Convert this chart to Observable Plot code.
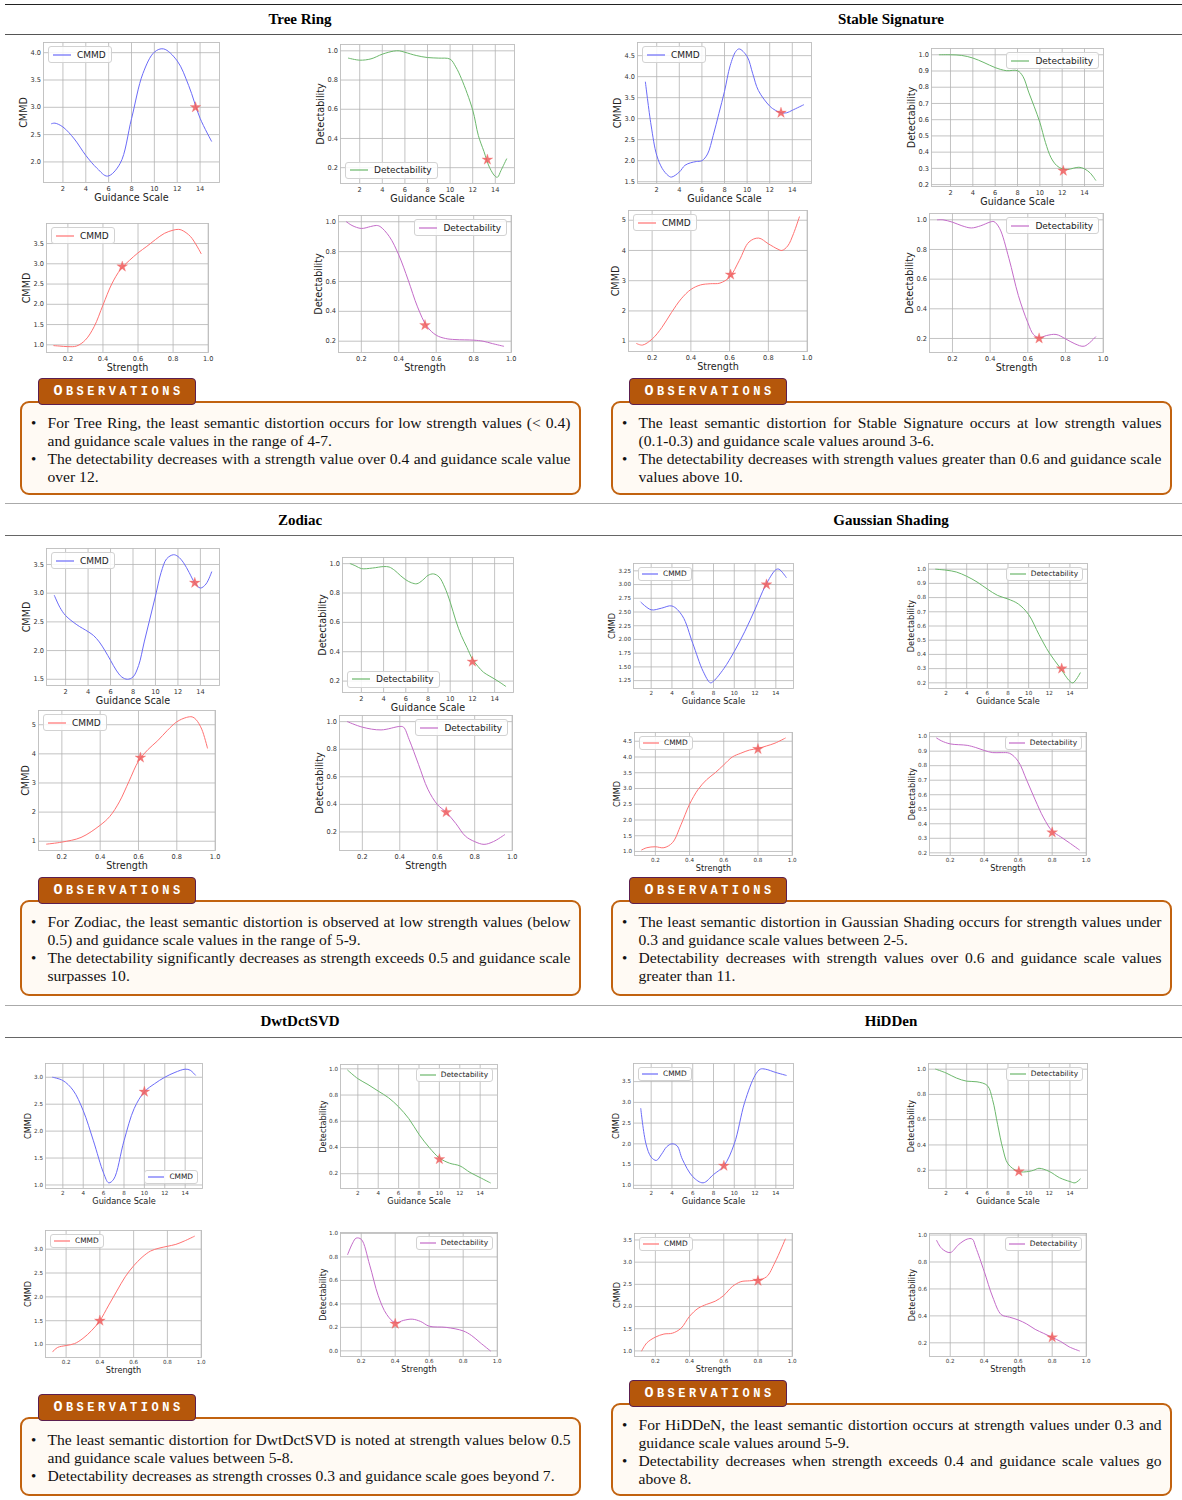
<!DOCTYPE html>
<html><head><meta charset="utf-8">
<script src="https://cdn.jsdelivr.net/npm/d3@7"></script>
<script src="https://cdn.jsdelivr.net/npm/@observablehq/plot@0.6"></script>
<style>
body{margin:0;background:#fff;}
#page{position:relative;width:1182px;height:1500px;overflow:hidden;font-family:"Liberation Serif","Times New Roman",serif;background:#fff;}
.rule{position:absolute;left:5px;width:1177px;height:0;}
.hdr{position:absolute;font-weight:bold;font-size:15px;line-height:18px;transform:translateX(-50%);white-space:nowrap;color:#000;}
.chart{position:absolute;}
.chart svg{display:block;overflow:visible;}
.legend{position:absolute;background:rgba(255,255,255,0.85);border:1px solid #d2d2d2;border-radius:3px;display:flex;align-items:center;font-family:"DejaVu Sans",sans-serif;color:#222;white-space:nowrap;line-height:1.15;}
.obs{position:absolute;border:2.5px solid #c1620f;border-radius:9px;background:#fffaf4;box-sizing:border-box;width:561px;}
.tag{position:absolute;width:158px;height:27px;box-sizing:border-box;background:#b5570b;border:1.5px solid #5b1f50;border-radius:4px;display:flex;align-items:center;justify-content:center;color:#fff;font-family:"Liberation Mono",monospace;font-weight:bold;font-size:12px;letter-spacing:3.5px;padding-left:3px;}
.tag .big{font-size:15px;}
.line{position:absolute;left:25.5px;width:523px;font-size:15.6px;line-height:18px;height:18px;white-space:nowrap;color:#111;}
.line.j{text-align:justify;text-align-last:justify;}
.bul{position:absolute;left:9px;font-size:15px;line-height:18px;color:#111;}
</style></head>
<body><div id="page"></div>
<script>
// ---------- shared tick labels ----------
const guidTicks = ["2","4","6","8","10","12","14"];
const strTicks = ["0.2","0.4","0.6","0.8","1.0"];
const det5 = ["0.2","0.4","0.6","0.8","1.0"];
const det9 = ["0.2","0.3","0.4","0.5","0.6","0.7","0.8","0.9","1.0"];
const det6 = ["0.0","0.2","0.4","0.6","0.8","1.0"];
const int5 = ["1","2","3","4","5"];
const c20_40 = ["2.0","2.5","3.0","3.5","4.0"];
const c10_35 = ["1.0","1.5","2.0","2.5","3.0","3.5"];
const c15_45 = ["1.5","2.0","2.5","3.0","3.5","4.0","4.5"];
const c15_35 = ["1.5","2.0","2.5","3.0","3.5"];
const c125_325 = ["1.25","1.50","1.75","2.00","2.25","2.50","2.75","3.00","3.25"];
const c10_45 = ["1.0","1.5","2.0","2.5","3.0","3.5","4.0","4.5"];
const c10_30 = ["1.0","1.5","2.0","2.5","3.0"];

// ---------- Tree Ring ----------
const trCmmdGX = [1,1.3,2,3,4,5,5.9,7,8,9,10,10.8,12,13,14,15];
const trCmmdG  = [2.70,2.71,2.64,2.42,2.12,1.88,1.74,1.97,2.79,3.62,4.01,4.07,3.85,3.40,2.80,2.38];
const trDetGX  = [1,2,3,4,5,5.5,6,7,8,9,10,10.5,11,12,12.5,13,13.5,14,14.2,14.5,15];
const trDetG   = [0.95,0.936,0.945,0.977,0.998,1.0,0.99,0.968,0.954,0.95,0.943,0.89,0.81,0.595,0.42,0.31,0.2,0.14,0.135,0.18,0.26];
const trCmmdSX = [0.12,0.15,0.2,0.25,0.3,0.35,0.4,0.45,0.5,0.55,0.6,0.65,0.7,0.75,0.8,0.83,0.85,0.9,0.96];
const trCmmdS  = [0.98,0.97,0.955,0.97,1.12,1.45,1.98,2.5,2.86,3.08,3.27,3.43,3.6,3.75,3.83,3.85,3.83,3.67,3.25];
const trDetSX  = [0.12,0.15,0.2,0.25,0.28,0.3,0.35,0.4,0.45,0.5,0.55,0.6,0.65,0.7,0.8,0.85,0.9,0.96];
const trDetS   = [1.0,0.975,0.955,0.968,0.975,0.968,0.9,0.777,0.61,0.43,0.3,0.24,0.218,0.211,0.207,0.2,0.184,0.166];
const trStars  = [[13.6,3.0],[13.3,0.255],[0.51,2.93],[0.54,0.307]];

// ---------- Stable Signature ----------
const ssCmmdGX = [1,1.5,2,2.5,3,3.3,4,4.5,5,5.5,6,6.5,7,7.5,8,8.5,9,9.3,10,10.5,11,12,12.5,13,13.5,14,15];
const ssCmmdG  = [3.87,2.85,2.13,1.81,1.65,1.61,1.73,1.89,1.95,1.98,2.0,2.16,2.6,3.12,3.65,4.26,4.6,4.66,4.48,4.07,3.67,3.3,3.2,3.14,3.14,3.2,3.33];
const ssDetGX  = [1,2,3,4,5,6,7,8,8.5,9,9.5,10,10.5,11,11.5,12,12.5,13,13.5,14,14.5,15];
const ssDetG   = [1.0,1.0,0.996,0.98,0.952,0.921,0.902,0.902,0.865,0.77,0.68,0.584,0.46,0.366,0.318,0.297,0.293,0.301,0.307,0.297,0.272,0.227];
const ssCmmdSX = [0.12,0.15,0.2,0.25,0.3,0.35,0.4,0.45,0.5,0.55,0.6,0.65,0.7,0.75,0.8,0.85,0.87,0.9,0.93,0.96];
const ssCmmdS  = [0.92,0.87,1.07,1.45,1.95,2.4,2.71,2.86,2.9,2.92,3.12,3.67,4.28,4.41,4.22,4.04,4.0,4.15,4.56,5.11];
const ssDetSX  = [0.12,0.15,0.2,0.25,0.3,0.35,0.4,0.42,0.45,0.5,0.55,0.6,0.63,0.66,0.7,0.75,0.8,0.85,0.9,0.96];
const ssDetS   = [1.0,1.0,0.984,0.96,0.945,0.96,0.985,0.988,0.943,0.739,0.489,0.307,0.227,0.205,0.22,0.227,0.198,0.164,0.148,0.211];
const ssStars  = [[13.0,3.14],[12.1,0.285],[0.605,3.2],[0.66,0.2]];

// ---------- Zodiac ----------
const zoCmmdGX = [1,1.5,2,3,4,4.5,5,5.5,6,6.5,7,7.5,8,8.5,9,9.5,10,10.5,11,11.6,12,12.5,13,13.5,14,14.5,15];
const zoCmmdG  = [2.96,2.75,2.61,2.45,2.33,2.26,2.15,2.0,1.83,1.66,1.54,1.5,1.54,1.74,2.15,2.55,2.95,3.36,3.6,3.67,3.64,3.53,3.36,3.18,3.09,3.16,3.37];
const zoDetGX  = [1,1.5,2,3,4,4.5,5,5.5,6,6.5,7,7.5,8,8.5,9,9.5,10,10.5,11,11.5,12,12.5,13,13.5,14,14.5,15];
const zoDetG   = [1.0,0.984,0.966,0.97,0.98,0.977,0.954,0.92,0.89,0.87,0.863,0.886,0.92,0.93,0.909,0.84,0.738,0.613,0.51,0.43,0.35,0.30,0.26,0.236,0.214,0.19,0.164];
const zoCmmdSX = [0.12,0.2,0.3,0.4,0.45,0.5,0.55,0.6,0.65,0.7,0.75,0.8,0.85,0.88,0.9,0.93,0.96];
const zoCmmdS  = [0.9,0.97,1.13,1.55,1.85,2.35,3.05,3.75,4.15,4.45,4.8,5.1,5.25,5.27,5.18,4.85,4.2];
const zoDetSX  = [0.12,0.2,0.3,0.4,0.42,0.45,0.5,0.55,0.6,0.65,0.7,0.75,0.8,0.85,0.9,0.96];
const zoDetS   = [1.0,0.96,0.94,0.965,0.96,0.87,0.69,0.51,0.4,0.34,0.26,0.17,0.13,0.11,0.13,0.18];
const zoStars  = [[13.5,3.18],[12.0,0.332],[0.61,3.87],[0.648,0.343]];

// ---------- Gaussian Shading ----------
const gsCmmdGX = [1,2,3,4,5,6,7,7.7,8,9,10,11,12,13,14,14.3,15];
const gsCmmdG  = [2.68,2.54,2.57,2.61,2.43,1.93,1.42,1.21,1.24,1.47,1.78,2.14,2.55,2.98,3.27,3.28,3.13];
const gsDetGX  = [1,2,3,4,5,6,7,8,9,10,11,12,13,14,14.3,15];
const gsDetG   = [1.0,0.993,0.98,0.95,0.91,0.86,0.815,0.79,0.755,0.68,0.54,0.41,0.31,0.21,0.2,0.27];
const gsCmmdSX = [0.12,0.15,0.2,0.25,0.3,0.35,0.4,0.45,0.5,0.55,0.6,0.65,0.7,0.75,0.8,0.85,0.9,0.96];
const gsCmmdS  = [1.05,1.12,1.15,1.12,1.28,1.85,2.5,2.97,3.28,3.5,3.75,4.0,4.12,4.22,4.27,4.35,4.44,4.6];
const gsDetSX  = [0.12,0.15,0.2,0.3,0.35,0.4,0.45,0.5,0.55,0.6,0.65,0.7,0.75,0.8,0.85,0.9,0.96];
const gsDetS   = [0.99,0.97,0.95,0.94,0.925,0.905,0.89,0.89,0.885,0.83,0.7,0.565,0.44,0.35,0.31,0.27,0.22];
const gsStars  = [[13.1,3.0],[13.2,0.3],[0.8,4.25],[0.8,0.34]];

// ---------- DwtDctSVD ----------
const ddCmmdGX = [1,2,3,4,5,6,6.5,7,8,9,10,11,12,13,14,14.5,15];
const ddCmmdG  = [3.0,2.94,2.76,2.38,1.82,1.22,1.04,1.11,1.82,2.42,2.73,2.88,3.0,3.09,3.15,3.13,3.04];
const ddDetGX  = [1,2,3,4,5,6,7,8,9,10,11,12,13,14,15];
const ddDetG   = [0.99,0.925,0.88,0.83,0.78,0.71,0.62,0.5,0.4,0.32,0.28,0.26,0.21,0.17,0.13];
const ddCmmdSX = [0.12,0.15,0.2,0.25,0.3,0.35,0.4,0.45,0.5,0.55,0.6,0.65,0.7,0.75,0.8,0.85,0.9,0.96];
const ddCmmdS  = [0.85,0.94,0.98,1.02,1.13,1.29,1.5,1.81,2.12,2.42,2.65,2.83,2.96,3.02,3.06,3.1,3.17,3.27];
const ddDetSX  = [0.12,0.15,0.17,0.2,0.25,0.3,0.35,0.4,0.45,0.5,0.55,0.6,0.7,0.8,0.85,0.9,0.96];
const ddDetS   = [0.82,0.92,0.96,0.95,0.73,0.47,0.31,0.24,0.26,0.27,0.25,0.21,0.2,0.17,0.13,0.07,0.0];
const ddStars  = [[10.0,2.73],[10.0,0.31],[0.4,1.5],[0.4,0.23]];

// ---------- HiDDeN ----------
const hdCmmdGX = [1,1.5,2,2.5,3,3.5,4,4.5,5,6,7,8,9,10,11,12,12.5,13,14,15];
const hdCmmdG  = [2.85,2.0,1.68,1.6,1.75,1.93,2.0,1.95,1.63,1.21,1.06,1.26,1.47,2.0,3.0,3.65,3.8,3.8,3.72,3.65];
const hdDetGX  = [1,2,3,4,5,6,6.5,7,7.5,8,9,10,10.5,11,12,13,14,14.5,15];
const hdDetG   = [1.0,0.97,0.93,0.905,0.9,0.87,0.76,0.56,0.37,0.25,0.19,0.19,0.2,0.215,0.19,0.14,0.11,0.1,0.13];
const hdCmmdSX = [0.12,0.15,0.2,0.25,0.3,0.35,0.4,0.45,0.5,0.55,0.6,0.65,0.7,0.75,0.8,0.85,0.9,0.96];
const hdCmmdS  = [1.0,1.18,1.31,1.38,1.4,1.51,1.78,1.96,2.05,2.12,2.25,2.45,2.56,2.58,2.6,2.67,3.0,3.52];
const hdDetSX  = [0.12,0.15,0.2,0.25,0.3,0.33,0.35,0.4,0.45,0.5,0.55,0.6,0.65,0.7,0.75,0.8,0.85,0.9,0.96];
const hdDetS   = [0.96,0.9,0.87,0.93,0.97,0.97,0.91,0.73,0.54,0.41,0.39,0.37,0.34,0.3,0.27,0.24,0.21,0.17,0.14];
const hdStars  = [[9.0,1.47],[9.05,0.19],[0.8,2.58],[0.8,0.24]];

// ---------- text ----------
const headers = [
  {t:"Tree Ring", x:300, y:19}, {t:"Stable Signature", x:891, y:19},
  {t:"Zodiac", x:300, y:520}, {t:"Gaussian Shading", x:891, y:520},
  {t:"DwtDctSVD", x:300, y:1021}, {t:"HiDDen", x:891, y:1021}
];
const obsTR = [["For Tree Ring, the least semantic distortion occurs for low strength values (< 0.4)","and guidance scale values in the range of 4-7."],["The detectability decreases with a strength value over 0.4 and guidance scale value","over 12."]];
const obsSS = [["The least semantic distortion for Stable Signature occurs at low strength values","(0.1-0.3) and guidance scale values around 3-6."],["The detectability decreases with strength values greater than 0.6 and guidance scale","values above 10."]];
const obsZO = [["For Zodiac, the least semantic distortion is observed at low strength values (below","0.5) and guidance scale values in the range of 5-9."],["The detectability significantly decreases as strength exceeds 0.5 and guidance scale","surpasses 10."]];
const obsGS = [["The least semantic distortion in Gaussian Shading occurs for strength values under","0.3 and guidance scale values between 2-5."],["Detectability decreases with strength values over 0.6 and guidance scale values","greater than 11."]];
const obsDD = [["The least semantic distortion for DwtDctSVD is noted at strength values below 0.5","and guidance scale values between 5-8."],["Detectability decreases as strength crosses 0.3 and guidance scale goes beyond 7."]];
const obsHD = [["For HiDDeN, the least semantic distortion occurs at strength values under 0.3 and","guidance scale values around 5-9."],["Detectability decreases when strength exceeds 0.4 and guidance scale values go","above 8."]];

// ---------- styles ----------
const BLUE="#6b6bf8", GREEN="#6cb86c", RED="#ff7272", PURPLE="#c46cc9", STAR="#f05e5e";
const G="Guidance Scale", ST="Strength", CM="CMMD", DE="Detectability";

const charts = [
 {f:[43,219,42,182],  xs:trCmmdGX, ys:trCmmdG, star:trStars[0], c:BLUE,  xl:G, yl:CM, xt:guidTicks, yt:c20_40, lp:"ul", s:"L"},
 {f:[340,514,44,183], xs:trDetGX,  ys:trDetG,  star:trStars[1], c:GREEN, xl:G, yl:DE, xt:guidTicks, yt:det5, lp:"ll", s:"L"},
 {f:[46,208,223,352], xs:trCmmdSX, ys:trCmmdS, star:trStars[2], c:RED,   xl:ST, yl:CM, xt:strTicks, yt:c10_35, lp:"ul", s:"L"},
 {f:[338,511,215,352],xs:trDetSX,  ys:trDetS,  star:trStars[3], c:PURPLE,xl:ST, yl:DE, xt:strTicks, yt:det5, lp:"ur", s:"L"},
 {f:[637,811,42,183], xs:ssCmmdGX, ys:ssCmmdG, star:ssStars[0], c:BLUE,  xl:G, yl:CM, xt:guidTicks, yt:c15_45, lp:"ul", s:"L"},
 {f:[931,1103,48,186],xs:ssDetGX,  ys:ssDetG,  star:ssStars[1], c:GREEN, xl:G, yl:DE, xt:guidTicks, yt:det9, lp:"ur", s:"L"},
 {f:[628,807,210,351],xs:ssCmmdSX, ys:ssCmmdS, star:ssStars[2], c:RED,   xl:ST, yl:CM, xt:strTicks, yt:int5, lp:"ul", s:"L"},
 {f:[929,1103,213,352],xs:ssDetSX, ys:ssDetS,  star:ssStars[3], c:PURPLE,xl:ST, yl:DE, xt:strTicks, yt:det5, lp:"ur", s:"L"},
 {f:[46,219,548,685], xs:zoCmmdGX, ys:zoCmmdG, star:zoStars[0], c:BLUE,  xl:G, yl:CM, xt:guidTicks, yt:c15_35, lp:"ul", s:"L"},
 {f:[342,513,557,692],xs:zoDetGX,  ys:zoDetG,  star:zoStars[1], c:GREEN, xl:G, yl:DE, xt:guidTicks, yt:det5, lp:"ll", s:"L"},
 {f:[38,215,710,850], xs:zoCmmdSX, ys:zoCmmdS, star:zoStars[2], c:RED,   xl:ST, yl:CM, xt:strTicks, yt:int5, lp:"ul", s:"L"},
 {f:[339,512,715,850],xs:zoDetSX,  ys:zoDetS,  star:zoStars[3], c:PURPLE,xl:ST, yl:DE, xt:strTicks, yt:det5, lp:"ur", s:"L"},
 {f:[633,793,563,688],xs:gsCmmdGX, ys:gsCmmdG, star:gsStars[0], c:BLUE,  xl:G, yl:CM, xt:guidTicks, yt:c125_325, lp:"ul", s:"S"},
 {f:[928,1087,563,688],xs:gsDetGX, ys:gsDetG,  star:gsStars[1], c:GREEN, xl:G, yl:DE, xt:guidTicks, yt:det9, lp:"ur", s:"S"},
 {f:[634,792,732,855],xs:gsCmmdSX, ys:gsCmmdS, star:gsStars[2], c:RED,   xl:ST, yl:CM, xt:strTicks, yt:c10_45, lp:"ul", s:"S"},
 {f:[929,1086,732,855],xs:gsDetSX, ys:gsDetS,  star:gsStars[3], c:PURPLE,xl:ST, yl:DE, xt:strTicks, yt:det9, lp:"ur", s:"S"},
 {f:[45,202,1063,1188],xs:ddCmmdGX,ys:ddCmmdG, star:ddStars[0], c:BLUE,  xl:G, yl:CM, xt:guidTicks, yt:c10_30, lp:"lr", s:"S"},
 {f:[340,497,1064,1188],xs:ddDetGX,ys:ddDetG,  star:ddStars[1], c:GREEN, xl:G, yl:DE, xt:guidTicks, yt:det5, lp:"ur", s:"S"},
 {f:[45,201,1230,1357],xs:ddCmmdSX,ys:ddCmmdS, star:ddStars[2], c:RED,   xl:ST, yl:CM, xt:strTicks, yt:c10_30, lp:"ul", s:"S"},
 {f:[340,497,1232,1356],xs:ddDetSX,ys:ddDetS,  star:ddStars[3], c:PURPLE,xl:ST, yl:DE, xt:strTicks, yt:det6, lp:"ur", s:"S"},
 {f:[633,793,1063,1188],xs:hdCmmdGX,ys:hdCmmdG,star:hdStars[0], c:BLUE,  xl:G, yl:CM, xt:guidTicks, yt:c10_35, lp:"ul", s:"S"},
 {f:[928,1087,1063,1188],xs:hdDetGX,ys:hdDetG, star:hdStars[1], c:GREEN, xl:G, yl:DE, xt:guidTicks, yt:det5, lp:"ur", s:"S"},
 {f:[634,792,1233,1356],xs:hdCmmdSX,ys:hdCmmdS,star:hdStars[2], c:RED,   xl:ST, yl:CM, xt:strTicks, yt:c10_35, lp:"ul", s:"S"},
 {f:[929,1086,1233,1356],xs:hdDetSX,ys:hdDetS, star:hdStars[3], c:PURPLE,xl:ST, yl:DE, xt:strTicks, yt:det5, lp:"ur", s:"S"}
];

const obsBoxes = [
 {left:20, top:401, h:94, first:423, b:obsTR},
 {left:611, top:401, h:94, first:423, b:obsSS},
 {left:20, top:900, h:96, first:922, b:obsZO},
 {left:611, top:900, h:96, first:922, b:obsGS},
 {left:20, top:1417, h:79, first:1440, b:obsDD},
 {left:611, top:1403, h:93, first:1425, b:obsHD}
];
const rules = [
 {y:5,c:"#222",w:1.4},{y:34,c:"#555",w:1},
 {y:504,c:"#aaa",w:1.5},{y:535,c:"#666",w:1},
 {y:1006,c:"#aaa",w:1.5},{y:1037,c:"#666",w:1}
];

const page = document.getElementById("page");

for (const r of rules) {
  const d = document.createElement("div");
  d.className = "rule";
  d.style.top = (r.y - r.w/2) + "px";
  d.style.borderTop = r.w + "px solid " + r.c;
  page.appendChild(d);
}
for (const h of headers) {
  const d = document.createElement("div");
  d.className = "hdr";
  d.textContent = h.t;
  d.style.left = h.x + "px";
  d.style.top = (h.y - 9) + "px";
  page.appendChild(d);
}

function makeChart(c) {
  const S = c.s === "S";
  const fs = S ? 5.6 : 6.6;
  const lfs = S ? 8.2 : 9.6;
  const [l, r, t, b] = c.f;
  const ml = 34, mr = 6, mt = 6, mb = 24;
  const pts = c.xs.map((x, i) => ({x, y: c.ys[i]}));
  const xe = d3.extent(c.xs);
  const ye = d3.extent(c.ys.concat([c.star[1]]));
  const px = (xe[1] - xe[0]) * 0.05, py = (ye[1] - ye[0]) * 0.05;
  const xv = c.xt.map(Number), yv = c.yt.map(Number);
  const maxLen = d3.max(c.yt, s => s.length);
  const yo = -Math.max(13, maxLen * fs * 0.6 + 7.5);
  const svg = Plot.plot({
    width: r - l + ml + mr, height: b - t + mt + mb,
    marginLeft: ml, marginRight: mr, marginTop: mt, marginBottom: mb,
    x: {domain: [xe[0] - px, xe[1] + px]},
    y: {domain: [ye[0] - py, ye[1] + py]},
    style: {fontFamily: "DejaVu Sans, sans-serif", color: "#333", background: "transparent", overflow: "visible"},
    marks: [
      Plot.gridX(xv, {stroke: "#b4b4b4", strokeOpacity: 1, strokeWidth: 0.8}),
      Plot.gridY(yv, {stroke: "#b4b4b4", strokeOpacity: 1, strokeWidth: 0.8}),
      Plot.frame({stroke: "#bdbdbd", strokeWidth: 0.9}),
      Plot.axisX(xv, {tickSize: 0, tickPadding: S ? 2.5 : 4, fontSize: fs, tickFormat: v => c.xt[xv.indexOf(v)], label: null}),
      Plot.axisY(yv, {tickSize: 0, tickPadding: 2.5, fontSize: fs, tickFormat: v => c.yt[yv.indexOf(v)], label: null}),
      Plot.line(pts, {x: "x", y: "y", stroke: c.c, strokeWidth: 1, curve: "catmull-rom"}),
      Plot.dot([c.star], {x: d => d[0], y: d => d[1], symbol: "star", r: 3.4, fill: STAR, fillOpacity: 0.85, stroke: STAR, strokeOpacity: 0.6, strokeWidth: 0.4}),
      Plot.text([c.xl], {text: d => d, frameAnchor: "bottom", lineAnchor: "middle", textAnchor: "middle", dy: S ? 12.5 : 15, fontSize: lfs, fill: "#222"}),
      Plot.text([c.yl], {text: d => d, frameAnchor: "left", lineAnchor: "middle", textAnchor: "middle", dx: yo, rotate: -90, fontSize: lfs, fill: "#222"})
    ]
  });
  const div = document.createElement("div");
  div.className = "chart";
  div.style.left = (l - ml) + "px";
  div.style.top = (t - mt) + "px";
  div.appendChild(svg);
  page.appendChild(div);

  // legend
  const lg = document.createElement("div");
  lg.className = "legend";
  const lfont = S ? 7.4 : 9;
  const ll = S ? 16 : 18;
  lg.style.fontSize = lfont + "px";
  lg.style.padding = S ? "1.5px 4px 1.5px 3px" : "2.5px 5px 2.5px 4px";
  lg.innerHTML = `<svg width="${ll}" height="6" style="margin-right:${S ? 5 : 6}px;display:block"><line x1="0" x2="${ll}" y1="3" y2="3" stroke="${c.c}" stroke-width="1.2"/></svg><span>${c.yl}</span>`;
  const off = 4;
  if (c.lp[0] === "u") lg.style.top = (t + off) + "px"; else lg.style.bottom = (1500 - (b - off)) + "px";
  if (c.lp[1] === "l") lg.style.left = (l + off + 1) + "px"; else lg.style.right = (1182 - (r - off)) + "px";
  page.appendChild(lg);
}
charts.forEach(makeChart);

for (const o of obsBoxes) {
  const box = document.createElement("div");
  box.className = "obs";
  box.style.left = o.left + "px";
  box.style.top = o.top + "px";
  box.style.height = o.h + "px";
  let row = 0;
  const y0 = o.first - 9 - o.top - 2.5;
  for (const bullet of o.b) {
    const bu = document.createElement("div");
    bu.className = "bul";
    bu.textContent = "\u2022";
    bu.style.top = (y0 + row * 18) + "px";
    box.appendChild(bu);
    bullet.forEach((ln, i) => {
      const d = document.createElement("div");
      d.className = "line" + (i < bullet.length - 1 ? " j" : "");
      d.textContent = ln;
      d.style.top = (y0 + row * 18) + "px";
      box.appendChild(d);
      row++;
    });
  }
  page.appendChild(box);
  const tag = document.createElement("div");
  tag.className = "tag";
  tag.style.left = (o.left + 18) + "px";
  tag.style.top = (o.top - 23) + "px";
  tag.innerHTML = '<span class="big">O</span>BSERVATIONS';
  page.appendChild(tag);
}
</script>
</body></html>
